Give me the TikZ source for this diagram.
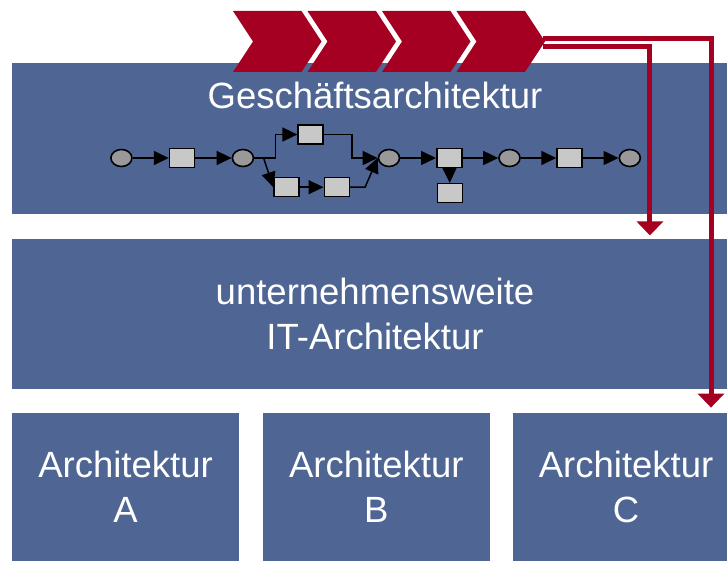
\documentclass[tikz,border=0pt]{standalone}
\usepackage{fontspec}
\setmainfont{Liberation Sans}
\usetikzlibrary{positioning,shapes.geometric,arrows.meta}
\definecolor{bandblue}{RGB}{79,101,148}
\definecolor{chevred}{RGB}{165,0,33}
\definecolor{evgray}{RGB}{153,153,153}
\definecolor{fngray}{RGB}{200,200,200}

\begin{document}
\begin{tikzpicture}[x=0.5pt,y=-0.5pt]
	\tikzstyle{band}=[rectangle, fill=bandblue, text=white, align=center, inner sep=0pt,
	font=\fontsize{18.25}{22.5}\selectfont]
	\tikzstyle{event}=[ellipse, draw=black, line width=0.8pt, fill=evgray, minimum width=10.5pt, minimum height=8.5pt, inner sep=0pt]
	\tikzstyle{func}=[rectangle, draw=black, line width=0.8pt, fill=fngray, minimum width=12.5pt, minimum height=9.5pt, inner sep=0pt]
	\tikzstyle{flow}=[-{Triangle[length=7.5pt,width=7pt]}, line width=0.75pt]
	\tikzstyle{redline}=[-{Triangle[length=7pt,width=13pt]}, chevred, line width=2.5pt]
	\useasboundingbox (0,0) rectangle (727,561);

	% layers
	\node (geschaeft) [band, minimum width=363pt, minimum height=75.5pt] at (375,138.5) {};
	\node (itarch) [band, minimum width=363pt, minimum height=75pt, below=12pt of geschaeft]
	{unternehmensweite\\IT-Architektur};
	\node (archA) [band, minimum width=113.5pt, minimum height=74pt] at (125.5,487) {Architektur\\A};
	\node (archB) [band, minimum width=113.5pt, minimum height=74pt, right=11.5pt of archA] {Architektur\\B};
	\node (archC) [band, minimum width=113.5pt, minimum height=74pt, right=11pt of archB] {Architektur\\C};
	\node (gtitle) [text=white, font=\fontsize{18.25}{22.5}\selectfont, anchor=base, inner sep=0pt] at (375,109)
	{Geschäftsarchitektur};

	% value chain
	\foreach \i in {0,...,3}
		\fill[chevred] ({233+74.5*\i},11) -- ++(68.5,0) -- ++(20,30.5) -- ++(-20,30.5)
		-- ++(-68.5,0) -- ++(20,-30.5) -- cycle;
	\coordinate (chevtip) at (545,41.5);

	% process chain
	\node (e1) [event] at (121.4,158) {};
	\node (r1) [func] at (182.1,158) {};
	\node (e2) [event] at (242.9,158) {};
	\node (rt) [func] at (310.7,134.5) {};
	\node (rb1) [func] at (286.6,187.2) {};
	\node (rb2) [func] at (336.8,187.2) {};
	\node (e3) [event] at (389,158) {};
	\node (r3) [func] at (449.3,158) {};
	\node (rd) [func] at (450,193.2) {};
	\node (e4) [event] at (509.5,158) {};
	\node (r4) [func] at (569.6,158) {};
	\node (e5) [event] at (629.8,158) {};
	\coordinate (fork) at (263.6,158);

	\draw[flow] (e1) -- (r1);
	\draw[flow] (r1) -- (e2);
	\draw[flow] (e2.east) -- ++(21.5,0) |- (rt.west);
	\draw[flow] (fork) -- (rb1.west);
	\draw[flow] (rb1) -- (rb2);
	\draw[flow] (rb2.east) -- ++(15,0) -- (e3.west);
	\draw[flow] (rt.east) -- ++(28,0) |- (e3.west);
	\draw[flow] (e3) -- (r3);
	\draw[flow] (r3) -- (rd);
	\draw[flow] (r3) -- (e4);
	\draw[flow] (e4) -- (r4);
	\draw[flow] (r4) -- (e5);

	% links down to the layers
	\draw[redline] (chevtip) ++(-2,-2.5) -| ([xshift=-14.5pt,yshift=2.5pt]archC.north east);
	\draw[redline] (chevtip) ++(-2,5.5) -| ([xshift=-44.25pt,yshift=1.5pt]itarch.north east);
\end{tikzpicture}
\end{document}
